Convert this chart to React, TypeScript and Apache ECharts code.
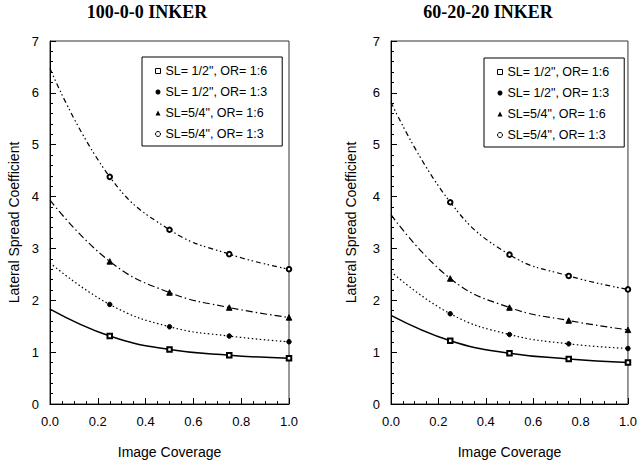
import React, { useEffect, useRef } from 'react';
import * as echarts from 'echarts';

// Image coverage positions (x values)
const coverage = [0, 0.25, 0.5, 0.75, 1.0];

const seriesNames = [
  'SL= 1/2", OR= 1:6',
  'SL= 1/2", OR= 1:3',
  'SL=5/4", OR= 1:6',
  'SL=5/4", OR= 1:3',
];

const panelTitles = ['100-0-0 INKER', '60-20-20 INKER'];

// 100-0-0 inker: lateral spread coefficient
const ink100Half16 = [1.83, 1.31, 1.05, 0.94, 0.88];
const ink100Half13 = [2.72, 1.92, 1.49, 1.31, 1.2];
const ink100Five16 = [3.93, 2.75, 2.15, 1.86, 1.67];
const ink100Five13 = [6.47, 4.38, 3.36, 2.89, 2.6];

// 60-20-20 inker: lateral spread coefficient
const ink60Half16 = [1.71, 1.22, 0.98, 0.87, 0.8];
const ink60Half13 = [2.55, 1.74, 1.34, 1.16, 1.07];
const ink60Five16 = [3.65, 2.42, 1.86, 1.61, 1.43];
const ink60Five13 = [5.82, 3.89, 2.88, 2.47, 2.21];

const symbols = ['emptyRect', 'circle', 'triangle', 'emptyCircle'];
const dashes: (string | number[])[] = ['solid', [1.5, 2.5], [7, 3, 1.5, 3], [5, 3, 1.5, 2.5, 1.5, 3]];
const widths = [1.5, 1.2, 1.2, 1.2];

const SANS = '"Liberation Sans", Arial, sans-serif';
const SERIF = '"Liberation Serif", "Times New Roman", serif';

function buildSeries(values: number[][], gridIdx: number) {
  return values.map((vals, s) => ({
    type: 'line',
    name: seriesNames[s],
    xAxisIndex: gridIdx,
    yAxisIndex: gridIdx,
    smooth: 0.45,
    symbol: symbols[s],
    symbolSize: s === 2 ? 5.5 : 4.5,
    itemStyle: { color: '#000', borderColor: '#000', borderWidth: 1 },
    lineStyle: { color: '#000', width: widths[s], type: dashes[s] },
    data: coverage.map((c, i) => (i === 0 ? { value: [c, vals[i]], symbol: 'none' } : { value: [c, vals[i]] })),
  }));
}

function axisPair(gridIdx: number, yNameGap: number) {
  const x = {
    type: 'value',
    gridIndex: gridIdx,
    min: 0,
    max: 1,
    interval: 0.2,
    name: 'Image Coverage',
    nameLocation: 'middle',
    nameGap: 41,
    nameTextStyle: { color: '#000', fontSize: 14, fontFamily: SANS },
    splitLine: { show: false },
    axisLine: { show: true, lineStyle: { color: '#000', width: 1 } },
    axisTick: { show: true, inside: true, length: 6, lineStyle: { color: '#000', width: 1 } },
    minorTick: { show: true, splitNumber: 4, length: 3, lineStyle: { color: '#000', width: 1 } },
    axisLabel: {
      color: '#000',
      fontSize: 13,
      fontFamily: SANS,
      margin: 11,
      formatter: (v: number) => v.toFixed(1),
    },
  };
  const y = {
    type: 'value',
    gridIndex: gridIdx,
    min: 0,
    max: 7,
    interval: 1,
    name: 'Lateral Spread Coefficient',
    nameLocation: 'middle',
    nameGap: yNameGap,
    nameTextStyle: { color: '#000', fontSize: 14, fontFamily: SANS },
    splitLine: { show: false },
    axisLine: { show: true, lineStyle: { color: '#000', width: 1 } },
    axisTick: { show: true, inside: true, length: 6, lineStyle: { color: '#000', width: 1 } },
    minorTick: { show: true, splitNumber: 5, length: 3, lineStyle: { color: '#000', width: 1 } },
    axisLabel: { color: '#000', fontSize: 13, fontFamily: SANS, margin: 11 },
  };
  return { x, y };
}

function legendFor(left: number, top: number) {
  return {
    left,
    top,
    orient: 'vertical',
    backgroundColor: '#fff',
    borderColor: '#000',
    borderWidth: 1,
    padding: [7, 15, 5, 13],
    itemGap: 7,
    itemWidth: 5,
    itemHeight: 5,
    selectedMode: false,
    textStyle: { color: '#000', fontSize: 12.5, fontFamily: SANS, lineHeight: 14 },
    data: seriesNames.map((n, i) => ({
      name: n,
      icon: i === 0 ? 'rect' : i === 3 ? 'circle' : symbols[i],
      itemStyle:
        i === 0 || i === 3
          ? { color: '#fff', borderColor: '#000', borderWidth: 1 }
          : { color: '#000', borderColor: '#000', borderWidth: 0 },
    })),
  };
}

function titleFor(text: string, centerX: number) {
  return {
    text,
    left: centerX,
    top: 3,
    textAlign: 'center',
    padding: 0,
    textStyle: { color: '#000', fontFamily: SERIF, fontWeight: 'bold', fontSize: 18 },
  };
}

export default function App() {
  const ref = useRef<HTMLDivElement>(null);

  useEffect(() => {
    if (!ref.current) return;
    const chart = echarts.init(ref.current, undefined, { renderer: 'svg' });
    const a = axisPair(0, 29);
    const b = axisPair(1, 33);
    chart.setOption({
      animation: false,
      title: [titleFor(panelTitles[0], 147), titleFor(panelTitles[1], 488)],
      grid: [
        { left: 50, right: 351, top: 41, bottom: 62, show: true, borderColor: '#333', borderWidth: 1 },
        { left: 391, right: 9, top: 41, bottom: 62, show: true, borderColor: '#333', borderWidth: 1 },
      ],
      xAxis: [a.x, b.x],
      yAxis: [a.y, b.y],
      legend: [legendFor(142, 57), legendFor(484, 58)],
      series: [
        ...buildSeries([ink100Half16, ink100Half13, ink100Five16, ink100Five13], 0),
        ...buildSeries([ink60Half16, ink60Half13, ink60Five16, ink60Five13], 1),
      ],
    });
    return () => chart.dispose();
  }, []);

  return <div ref={ref} style={{ position: 'absolute', left: 0, top: 0, width: 640, height: 466, background: '#fff' }} />;
}
